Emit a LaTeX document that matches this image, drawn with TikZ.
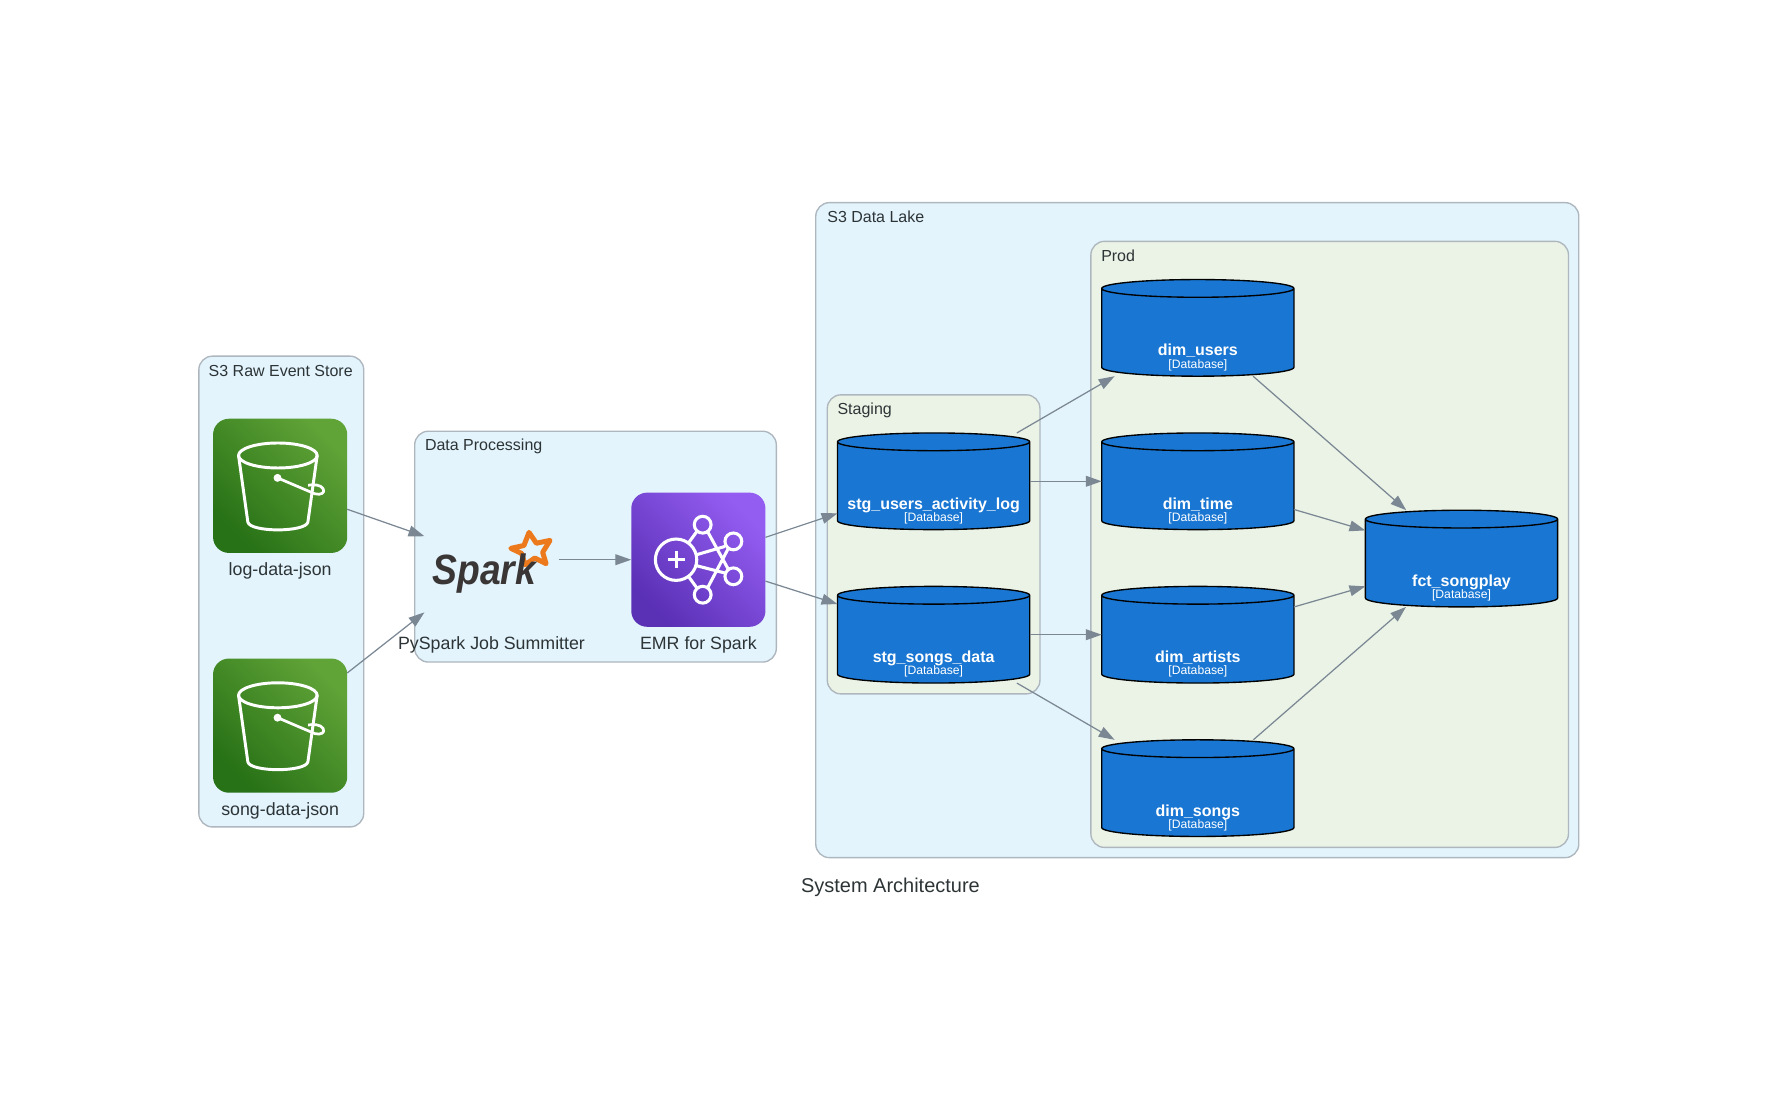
\documentclass[tikz,border=0pt]{standalone}
\usepackage{fontspec}
\setmainfont{Liberation Sans}
\usetikzlibrary{arrows.meta}
\usetikzlibrary{shapes.geometric}
\usetikzlibrary{shapes.misc}

\definecolor{clusterblue}{HTML}{E3F4FD}
\definecolor{clustergreen}{HTML}{EBF3E7}
\definecolor{clusterline}{HTML}{AEB6BE}
\definecolor{edgegray}{HTML}{7B8894}
\definecolor{inkgray}{HTML}{2D3436}
\definecolor{dbblue}{HTML}{1976D2}
\definecolor{bucketlight}{HTML}{60A337}
\definecolor{bucketdark}{HTML}{277116}
\definecolor{emrlight}{HTML}{945DF2}
\definecolor{emrdark}{HTML}{5A30B5}
\definecolor{sparkorange}{HTML}{EC7A1C}
\definecolor{sparkink}{HTML}{3A3635}

\tikzset{
  cluster/.style={draw=clusterline,line width=.012cm,rounded corners=.12cm,inner sep=0pt,outer sep=0pt},
  clustertitle/.style={text=inkgray,font=\fontsize{4}{5}\selectfont,text depth=0pt,inner sep=0pt,outer sep=0pt},
  edge/.style={draw=edgegray,line width=.011cm,-{Triangle[length=.14cm,width=.095cm]}},
  imgbox/.style={minimum size=1.18cm,inner sep=0pt,outer sep=0pt},
  greenicon/.style={imgbox,rounded corners=.14cm,top color=bucketlight,bottom color=bucketdark,shading angle=-45},
  purpleicon/.style={imgbox,rounded corners=.14cm,top color=emrlight,bottom color=emrdark,shading angle=-45},
  imglabel/.style={text=inkgray,font=\fontsize{4.45}{5}\selectfont,text depth=0pt,inner sep=0pt,outer sep=0pt},
  dbport/.style={chamfered rectangle,chamfered rectangle xsep=.3cm,chamfered rectangle ysep=.08cm,
    minimum width=1.69cm,minimum height=.85cm,inner sep=0pt,outer sep=0pt},
  dbnode/.style={cylinder,shape border rotate=90,shape aspect=1,draw=black,fill=dbblue,line width=.012cm,
    minimum width=1.69cm,minimum height=.85cm,inner sep=.078cm,outer sep=0pt,anchor=shape center},
  dbname/.style={text=white,font=\fontsize{4}{5}\bfseries\selectfont,text depth=0pt,inner sep=0pt,outer sep=0pt},
  dbkind/.style={text=white,font=\fontsize{3.05}{4}\selectfont,text depth=0pt,inner sep=0pt,outer sep=0pt},
  bucket/.pic={
    \draw[white,line width=.026cm,line join=round] (-2,-26.7) ellipse (34.6 and 11);
    \draw[white,line width=.026cm,line join=round] (-36.6,-26.7) -- (-28.4,32) .. controls (-26,41) and (22,41) .. (24.4,32) -- (32.6,-26.7);
    \draw[white,line width=.02cm,fill=white] (-2.3,-7) circle (2.4);
    \draw[white,line width=.024cm,line join=round] (-2.3,-7) -- (30.5,7) .. controls (36,8.5) and (40,6) .. (37.8,2.5) .. controls (36,-1) and (29,-1.5) .. (24.6,-.5);
  },
  emrglyph/.pic={
    \draw[white,line width=.027cm] (-19.6,0) circle (18.2);
    \draw[white,line width=.027cm] (-27,0) -- (-12.2,0) (-19.6,-7.4) -- (-19.6,7.4);
    \foreach \cx/\cy in {3.8/-30.8,30.8/-16.1,30.8/14.6,3.8/30.8}
      \draw[white,line width=.027cm] (\cx,\cy) circle (7.4);
    \draw[white,line width=.027cm] (-8.8,-14.6) -- (-1.5,-24.6) (-1.5,-4.4) -- (23.4,-11.7)
      (-1.5,5.3) -- (23.4,11.7) (-8.8,14.6) -- (-1.5,24.6)
      (8.2,-24.6) -- (26.4,8.5) (8.2,24.6) -- (26.4,-10);
  },
}

\begin{document}
\begin{tikzpicture}[x=.01cm,y=-.01cm]
\useasboundingbox (0,0) rectangle (1568,961);
% clusters
\node[cluster,fill=clusterblue,minimum width=1.45cm,minimum height=4.14cm] (rawstore) at (247.5,520.5) {};
\node[cluster,fill=clusterblue,minimum width=3.18cm,minimum height=2.03cm] (processing) at (524,481) {};
\node[cluster,fill=clusterblue,minimum width=6.71cm,minimum height=5.76cm] (datalake) at (1053.5,466.5) {};
\node[cluster,fill=clustergreen,minimum width=1.87cm,minimum height=2.63cm] (staging) at (821.5,479) {};
\node[cluster,fill=clustergreen,minimum width=4.2cm,minimum height=5.33cm] (prod) at (1170,479) {};
\node[clustertitle] (rawtitle) at (247,326) {S3 Raw Event Store};
\node[clustertitle,anchor=west] (proctitle) at (374,391.5) {Data Processing};
\node[clustertitle,anchor=west] (laketitle) at (728,191) {S3 Data Lake};
\node[clustertitle,anchor=west] (stagetitle) at (737,360) {Staging};
\node[clustertitle,anchor=west] (prodtitle) at (969,225) {Prod};

% s3 buckets
\node[greenicon] (logdata) at (246.5,427.5) {};
\pic at (246.5,427.5) {bucket};
\node[imglabel] (loglabel) at (246.5,500.5) {log-data-json};
\node[greenicon] (songdata) at (246.5,638.5) {};
\pic at (246.5,638.5) {bucket};
\node[imglabel] (songlabel) at (246.5,711.5) {song-data-json};

% spark logo
\node[imgbox] (pyspark) at (432.5,492.5) {};
\draw[sparkorange,line width=.044cm,line join=round]
  (465.5,468.5) -- (472,478) -- (484,475.5) -- (477.5,486) -- (480.5,496) -- (470.5,491) -- (462,497)
  -- (459,487) -- (449.5,482.5) -- (461,480) -- cycle;
\node[text=sparkink,font=\fontsize{10.6}{12}\bfseries\itshape\selectfont,inner sep=0pt,xscale=.88,anchor=base west] (sparkword) at (380,514) {Spark};
\node[imglabel] (sparklabel) at (432.5,566) {PySpark Job Summitter};

% emr
\node[purpleicon] (emr) at (614.5,492.5) {};
\pic at (614.5,492.5) {emrglyph};
\node[imglabel] (emrlabel) at (614.5,566) {EMR for Spark};

% databases
\newcommand{\dbcyl}[4]{
  \node[dbport] (#1) at (#2,#3) {};
  \node[dbnode] (#1body) at (#2,#3) {};
  \node[dbname] (#1name) at (#2,#3+19.5) {#4};
  \node[dbkind] (#1kind) at (#2,#3+31.5) {[Database]};
}
\dbcyl{stgusers}{821.5}{423.5}{stg\_users\_activity\_log}
\dbcyl{stgsongs}{821.5}{558.5}{stg\_songs\_data}
\dbcyl{dimusers}{1054}{288.5}{dim\_users}
\dbcyl{dimtime}{1054}{423.5}{dim\_time}
\dbcyl{dimartists}{1054}{558.5}{dim\_artists}
\dbcyl{dimsongs}{1054}{693.5}{dim\_songs}
\dbcyl{fctsongplay}{1286}{491.5}{fct\_songplay}

% edges
\draw[edge] (logdata) -- (pyspark);
\draw[edge] (songdata) -- (pyspark);
\draw[edge] (pyspark) -- (emr);
\draw[edge] (emr) -- (stgusers);
\draw[edge] (emr) -- (stgsongs);
\draw[edge] (stgusers) -- (dimusers);
\draw[edge] (stgusers) -- (dimtime);
\draw[edge] (stgsongs) -- (dimartists);
\draw[edge] (stgsongs) -- (dimsongs);
\draw[edge] (dimusers) -- (fctsongplay);
\draw[edge] (dimtime) -- (fctsongplay);
\draw[edge] (dimartists) -- (fctsongplay);
\draw[edge] (dimsongs) -- (fctsongplay);

\node[text=inkgray,font=\fontsize{5}{6}\selectfont,text depth=0pt,inner sep=0pt] (captiontext) at (783.5,779) {System Architecture};
\end{tikzpicture}
\end{document}
